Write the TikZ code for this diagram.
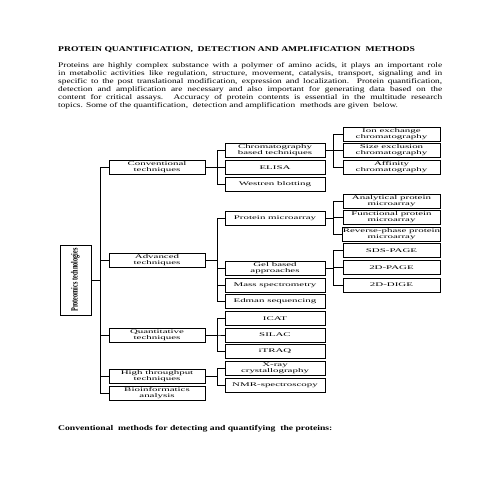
\documentclass[tikz,border=0pt]{standalone}
\usepackage{fontspec}
\setmainfont{Liberation Serif}[FakeStretch=1.32]
\newfontfamily\boxfont{Liberation Serif}[FakeStretch=1.95]
\newfontfamily\vertfont{Liberation Serif}[FakeStretch=0.65]
\usetikzlibrary{calc,shadows}

\begin{document}
\begin{tikzpicture}[x=1pt,y=-1pt]
\tikzstyle{box}=[draw,line width=0.8pt,fill=white,inner sep=0pt,outer sep=0pt,minimum height=14pt,align=center,
  drop shadow={shadow xshift=0.6pt,shadow yshift=-0.6pt,fill=black,opacity=1},font=\boxfont\fontsize{5.6}{6}\selectfont]
\tikzstyle{lvla}=[box,minimum width=96pt]
\tikzstyle{lvlb}=[box,minimum width=100pt]
\tikzstyle{lvlc}=[box,minimum width=97pt]
\tikzstyle{link}=[line width=0.9pt]

\useasboundingbox (0,0) rectangle (495,495);
\fill[white] (0,0) rectangle (495,495);

% heading and text
\node (title) [anchor=base west,inner sep=0pt,font=\bfseries\fontsize{7.3}{8}\selectfont] at (58,51.5)
  {PROTEIN QUANTIFICATION,\ \ DETECTION AND AMPLIFICATION\ \ METHODS};
\node (para) [anchor=north west,inner sep=0pt,text width=384pt,align=justify,font=\fontsize{7.1}{8.1}\selectfont] at (58,62)
  {Proteins are highly complex substance with a polymer of amino acids, it plays an important role\linebreak
   in metabolic activities like regulation, structure, movement, catalysis, transport, signaling and in\linebreak
   specific to the post translational modification, expression and localization. Protein quantification,\linebreak
   detection and amplification are necessary and also important for generating data based on the\linebreak
   content for critical assays. Accuracy of protein contents is essential in the multitude research\linebreak
   topics. Some of the quantification,\ \ detection and amplification\ \ methods are given\ \ below.};
\node (foot) [anchor=base west,inner sep=0pt,font=\bfseries\fontsize{7.3}{8}\selectfont] at (58,430.5)
  {Conventional\ \ methods for detecting and quantifying\ \ the proteins:};

% root
\node (prot) [draw,line width=0.8pt,rotate=90,inner sep=0pt,minimum width=70pt,minimum height=31pt,
  drop shadow={shadow xshift=0.6pt,shadow yshift=-0.6pt,fill=black,opacity=1},fill=white,
  font=\vertfont\bfseries\fontsize{9.5}{9.5}\selectfont] at (75.5,280) {Proteomics technologies};

% first level
\node (conv) [lvla] at (157,167) {Conventional\\techniques};
\node (adv) [lvla] at (157,260) {Advanced\\techniques};
\node (quant) [lvla] at (157,335) {Quantitative\\techniques};
\node (high) [lvla] at (157,376.5) {High throughput\\techniques};
\node (bio) [lvla] at (157,393.5) {Bioinformatics\\analysis};

% second level
\node (chrom) [lvlb] at (275,150.5) {Chromatography\\based techniques};
\node (elisa) [lvlb] at (275,167.5) {ELISA};
\node (west) [lvlb] at (275,184) {Westren blotting};
\node (micro) [lvlb] at (275,218.5) {Protein microarray};
\node (gel) [lvlb] at (275,268.5) {Gel based\\approaches};
\node (mass) [lvlb] at (275,285) {Mass spectrometry};
\node (edman) [lvlb] at (275,301.5) {Edman sequencing};
\node (icat) [lvlb] at (275,318.5) {ICAT};
\node (silac) [lvlb] at (275,335) {SILAC};
\node (itraq) [lvlb] at (275,351.5) {iTRAQ};
\node (xray) [lvlb] at (275,368.5) {X-ray\\crystallography};
\node (nmr) [lvlb] at (275,385) {NMR-spectroscopy};

% third level
\node (ion) [lvlc] at (391.5,134) {Ion exchange\\chromatography};
\node (size) [lvlc] at (391.5,150.5) {Size exclusion\\chromatography};
\node (aff) [lvlc] at (391.5,167) {Affinity\\chromatography};
\node (ana) [lvlc] at (391.5,201) {Analytical protein\\microarray};
\node (func) [lvlc] at (391.5,217.5) {Functional protein\\microarray};
\node (rev) [lvlc] at (391.5,234) {Reverse-phase protein\\microarray};
\node (sds) [lvlc] at (391.5,250.5) {SDS-PAGE};
\node (page) [lvlc] at (391.5,267.5) {2D-PAGE};
\node (dige) [lvlc] at (391.5,285) {2D-DIGE};

% connectors
\foreach \n in {conv,adv,quant,high,bio}
  \draw[link] (prot.south) -- ++(9,0) |- (\n.west);
\foreach \n in {chrom,elisa,west}
  \draw[link] (conv.east) -- ++(12,0) |- (\n.west);
\foreach \n in {micro,gel,mass,edman}
  \draw[link] (adv.east) -- ++(12,0) |- (\n.west);
\foreach \n in {icat,silac,itraq}
  \draw[link] (quant.east) -- ++(12,0) |- (\n.west);
\foreach \n in {xray,nmr}
  \draw[link] (high.east) -- ++(12,0) |- (\n.west);
\foreach \n in {ion,size,aff}
  \draw[link] (chrom.east) -- ++(8,0) |- (\n.west);
\foreach \n in {ana,func,rev}
  \draw[link] (micro.east) -- ++(8,0) |- (\n.west);
\foreach \n in {sds,page,dige}
  \draw[link] (gel.east) -- ++(8,0) |- (\n.west);

\end{tikzpicture}
\end{document}
